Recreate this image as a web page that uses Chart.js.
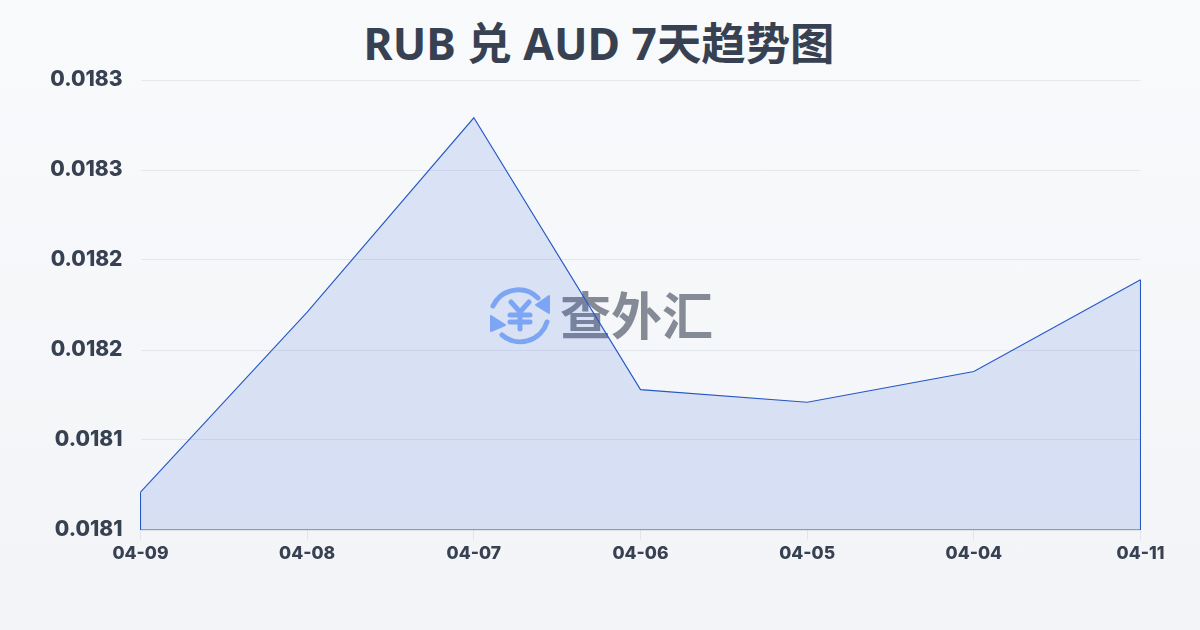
<!DOCTYPE html>
<html lang="zh-CN">
<head>
    <meta charset="UTF-8">
    <title>RUB 兑 AUD 7天趋势图</title>
    <script src="https://cdn.jsdelivr.net/npm/chart.js"></script>
    <style>
        html, body {
            margin: 0;
            padding: 0;
        }
        .wrap {
            position: relative;
            width: 1200px;
            height: 630px;
            overflow: hidden;
            background: linear-gradient(180deg, #f8fafc 0%, #f2f4f7 100%);
        }
        h1 {
            position: absolute;
            left: 0;
            top: 13px;
            width: 1198px;
            margin: 0;
            text-align: center;
            font: 700 44.4px/60px "Noto Sans", "Noto Sans CJK SC", sans-serif;
            color: #374151;
        }
        #chart {
            position: absolute;
            left: 0;
            top: 0;
        }
        .watermark {
            position: absolute;
            left: 488px;
            top: 283px;
            width: 230px;
            height: 64px;
            display: flex;
            align-items: center;
        }
        .watermark span {
            margin-left: 8px;
            margin-top: -4px;
            font: 700 51px "Noto Sans CJK SC", sans-serif;
            color: #858b96;
            line-height: 64px;
        }
    </style>
</head>
<body>
    <div class="wrap">
        <h1 id="title"></h1>
        <div class="watermark">
            <svg width="64" height="64" viewBox="0 0 64 64" fill="none" stroke="#8ab4f8" stroke-width="5" stroke-linecap="round" stroke-linejoin="round">
                <path d="M5 23 A28 28 0 0 1 50 15"/>
                <path d="M59 39 A28 28 0 0 1 14 52"/>
                <path d="M61 13 L61 30 L48 22 Z" fill="#8ab4f8" stroke-width="2"/>
                <path d="M3 33 L3 48 L17 42 Z" fill="#8ab4f8" stroke-width="2"/>
                <path d="M23 19 L32 29 L41 19 M22 32 H42 M22 39 H42 M32 29 V46"/>
            </svg>
            <span>查外汇</span>
        </div>
        <canvas id="chart" width="1200" height="630"></canvas>
    </div>

    <script>
        const titleText = 'RUB 兑 AUD 7天趋势图';
        const dates = ['04-09', '04-08', '04-07', '04-06', '04-05', '04-04', '04-11'];
        const rates = [0.018121, 0.018221, 0.018329, 0.018178, 0.018171, 0.018188, 0.018239];
        const yTickLabels = ['0.0181', '0.0181', '0.0182', '0.0182', '0.0183', '0.0183'];
        const yMin = 0.0181;
        const yMax = 0.01835;
        const yStep = 0.00005;

        const textColor = '#374151';
        const lineColor = '#2558c4';
        const tickFont = 'Inter';

        document.getElementById('title').textContent = titleText;

        // the outline also runs down both sides and along the bottom of the area
        const outline = [
            { x: dates[0], y: rates[0] },
            { x: dates[0], y: yMin },
            { x: dates[dates.length - 1], y: yMin },
            { x: dates[dates.length - 1], y: rates[rates.length - 1] }
        ];

        new Chart(document.getElementById('chart'), {
            type: 'line',
            data: {
                labels: dates,
                datasets: [{
                    data: rates,
                    borderColor: lineColor,
                    borderWidth: 1.1,
                    backgroundColor: 'rgba(29, 78, 216, 0.13)',
                    fill: 'origin',
                    tension: 0,
                    pointRadius: 0
                }, {
                    data: outline,
                    borderColor: lineColor,
                    borderWidth: 1.1,
                    fill: false,
                    tension: 0,
                    pointRadius: 0
                }]
            },
            options: {
                responsive: false,
                animation: false,
                events: [],
                layout: { padding: { left: 0, right: 59.5, top: 80, bottom: 0 } },
                plugins: {
                    legend: { display: false },
                    tooltip: { enabled: false }
                },
                scales: {
                    x: {
                        type: 'category',
                        offset: false,
                        afterFit: scale => { scale.height = 100; },
                        grid: {
                            drawOnChartArea: false,
                            color: '#e2e6eb',
                            tickLength: 10
                        },
                        border: { display: false },
                        ticks: {
                            color: textColor,
                            maxRotation: 0,
                            autoSkip: false,
                            padding: 3,
                            font: { family: tickFont, size: 17.5, weight: 800 }
                        }
                    },
                    y: {
                        min: yMin,
                        max: yMax,
                        afterFit: scale => { scale.width = 140.5; },
                        grid: {
                            color: 'rgba(30, 41, 59, 0.08)',
                            drawTicks: false
                        },
                        border: { display: false },
                        ticks: {
                            stepSize: yStep,
                            color: textColor,
                            padding: 18,
                            font: { family: tickFont, size: 21, weight: 800 },
                            callback: (value, i) => yTickLabels[i]
                        }
                    }
                }
            }
        });
    </script>
</body>
</html>
